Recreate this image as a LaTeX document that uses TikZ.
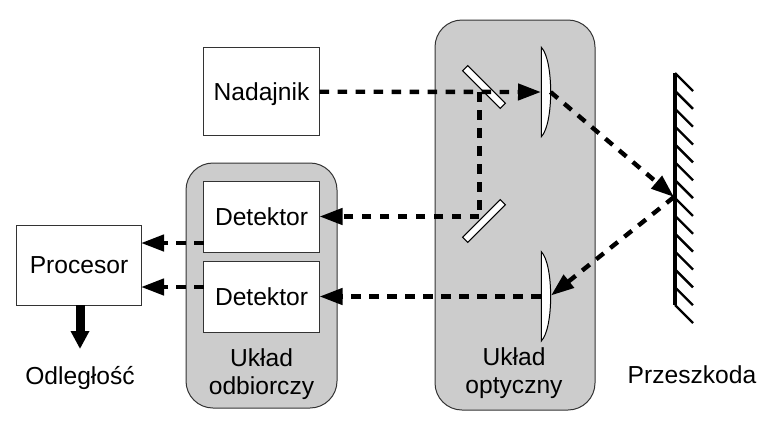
\documentclass[tikz,border=0pt]{standalone}
\usepackage{fontspec}
\setmainfont{Liberation Sans}
\usetikzlibrary{arrows.meta}
\definecolor{panelgray}{HTML}{CCCCCC}
\definecolor{edgegray}{HTML}{333333}

\begin{document}
\begin{tikzpicture}[
  x=0.25mm, y=-0.25mm,   % coordinates are read off in pixels, y downwards
  txt/.style    = {font=\fontsize{17.5}{20}\selectfont, inner sep=0pt, align=center, text depth=0pt},
  panel/.style  = {draw=edgegray, fill=panelgray, line width=0.25mm, rounded corners=6.75mm,
                   inner sep=0pt, outer sep=0pt},
  block/.style  = {draw=edgegray, fill=white, line width=0.25mm, inner sep=0pt, outer sep=0pt,
                   minimum width=29mm, text depth=0pt, font=\fontsize{17.5}{20}\selectfont},
  mirror/.style = {draw=black, fill=white, line width=0.25mm, inner sep=0pt, outer sep=0pt,
                   minimum width=13.3mm, minimum height=1.8mm},
  lens/.style   = {draw=black, fill=white, line width=0.25mm},
  beam/.style   = {line width=1.1mm, dash pattern=on 2.4mm off 2.1mm,
                   -{Triangle[length=5.75mm,width=4mm]}},
  plainbeam/.style = {line width=1.1mm, dash pattern=on 2.4mm off 2.1mm},
  outarrow/.style  = {line width=2.25mm, -{Triangle[length=4.5mm,width=4.4mm]}},
]
  \useasboundingbox (0,0) rectangle (776,424);

  % the two grey housings
  \node[panel, minimum width=40mm, minimum height=97.5mm] (optyka) at (515,215) {};
  \node[panel, minimum width=37.75mm, minimum height=61.25mm] (odbior) at (261.5,285.5) {};

  \node[block, minimum height=22.1mm] (nadajnik) at (261.5,91.7) {Nadajnik};
  \node[block, minimum height=17.75mm] (det1) at (261.5,216.5) {Detektor};
  \node[block, minimum height=17.75mm] (det2) at (261.5,296.5) {Detektor};
  \node[block, minimum width=31mm, minimum height=20mm] (procesor) at (79,265) {Procesor};

  \node[mirror, rotate=-45] (mirror1) at (484,87) {};
  \node[mirror, rotate=45] (mirror2) at (484,221) {};

  % lenses: flat side left, bulge to the right
  \draw[lens] (541.3,47.3) .. controls (553.8,60) and (553.8,124) .. (541.3,136.7) -- cycle;
  \draw[lens] (541.3,251.7) .. controls (553.8,264.4) and (553.8,328.3) .. (541.3,341) -- cycle;

  % obstacle wall with its hatching
  \coordinate (wallTop) at (675,73);
  \coordinate (wallBot) at (675,305);
  \draw[line width=1mm] (wallTop) -- (wallBot);
  \foreach \i in {0,...,13}
    \draw[line width=0.6mm] (675,73+\i*17.85) -- ++(18,18);

  \coordinate (lens1in) at (541,92);
  \coordinate (lens1out) at (550.5,92);
  \coordinate (lens2in) at (541,296.5);
  \coordinate (lens2out) at (551,295.5);
  \coordinate (hit) at (674,197);
  \coordinate (split) at (479.3,92);
  \coordinate (fold) at (479.3,216.5);
  \coordinate (det1out) at (204,243);
  \coordinate (det2out) at (204,287);
  \coordinate (proc1in) at (141,243);
  \coordinate (proc2in) at (141,287);
  \coordinate (result) at (80,349);

  \draw[beam] (nadajnik.east) -- (lens1in);
  \draw[beam] (lens1out) -- (hit);
  \draw[beam] (hit) -- (lens2out);
  \draw[beam] (lens2in) -- (det2.east);
  \draw[plainbeam] (split) -- (fold);
  \draw[beam] (fold) -- (det1.east);
  \draw[beam] (det1out) -- (proc1in);
  \draw[beam] (det2out) -- (proc2in);
  \draw[outarrow] (procesor.south -| result) -- (result);

  \node[txt] (odleglosc) at (80,375.5) {Odległość};
  \node[txt] (lblOdbior) at (261.5,371.5) {Układ\\odbiorczy};
  \node[txt] (lblOptyka) at (514,370.5) {Układ\\optyczny};
  \node[txt] (przeszkoda) at (692,375) {Przeszkoda};
\end{tikzpicture}
\end{document}
